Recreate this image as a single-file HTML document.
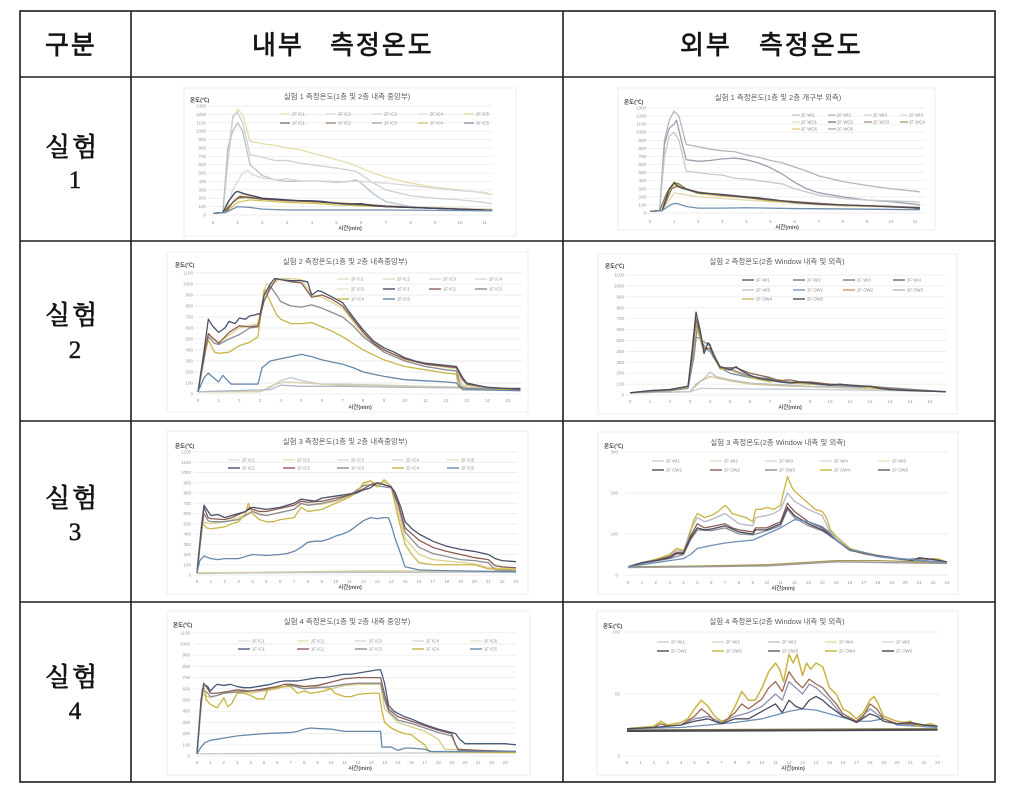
<!DOCTYPE html>
<html><head><meta charset="utf-8">
<style>
html,body{margin:0;padding:0;background:#fff;}
svg{display:block;}
.tl{stroke:#1e1e1e;stroke-width:1.6;fill:none;}
.hd{font-family:"Liberation Sans","Noto Sans CJK KR",sans-serif;font-size:26px;fill:#151515;stroke:#151515;stroke-width:0.7;letter-spacing:2px;}
.rl{font-family:"Liberation Serif","Noto Serif CJK KR","Noto Serif CJK SC",serif;font-size:26px;fill:#151515;stroke:#151515;stroke-width:0.8;letter-spacing:2px;}
.rn{font-family:"Liberation Serif",serif;font-size:25px;fill:#151515;stroke:#151515;stroke-width:0.5;}
.ti{font-family:"Liberation Sans","Noto Sans CJK KR",sans-serif;font-size:7.5px;fill:#5a5a5a;text-anchor:middle;}
.ax{font-family:"Liberation Sans","Noto Sans CJK KR",sans-serif;font-size:5.5px;fill:#444;font-weight:bold;}
.yl{font-family:"Liberation Sans",sans-serif;font-size:4.5px;fill:#9a9a9a;text-anchor:end;}
.xl{font-family:"Liberation Sans",sans-serif;font-size:4.5px;fill:#9a9a9a;text-anchor:middle;}
.xt{font-family:"Liberation Sans","Noto Sans CJK KR",sans-serif;font-size:5.5px;fill:#555;text-anchor:middle;font-weight:bold;}
.lg{font-family:"Liberation Sans",sans-serif;font-size:4.3px;fill:#8a8a8a;}
.fr{fill:#fff;stroke:#ececec;stroke-width:1;}
.gr{fill:none;stroke:#e9e9e9;stroke-width:0.7;}
.s{fill:none;stroke-width:1.3;stroke-linejoin:round;}
.s,.gr{vector-effect:non-scaling-stroke;}
</style></head>
<body>
<svg width="1024" height="801" viewBox="0 0 1024 801" xmlns="http://www.w3.org/2000/svg">
<rect width="1024" height="801" fill="#fff"/>

<!-- chart frames -->
<rect class="fr" x="184" y="88" width="332" height="148"/>
<rect class="fr" x="618" y="88" width="317" height="142"/>
<rect class="fr" x="167" y="252" width="361" height="160"/>
<rect class="fr" x="598" y="254" width="359" height="160"/>
<rect class="fr" x="167" y="431" width="361" height="163"/>
<rect class="fr" x="598" y="432" width="360" height="162"/>
<rect class="fr" x="167" y="611" width="363" height="164"/>
<rect class="fr" x="597" y="611" width="361" height="164"/>

<!-- ================= CHART 1 ================= -->
<g transform="translate(213,215) scale(24.7,-0.08385)">
<path class="gr" d="M-0.2,0H11.3M-0.2,100H11.3M-0.2,200H11.3M-0.2,300H11.3M-0.2,400H11.3M-0.2,500H11.3M-0.2,600H11.3M-0.2,700H11.3M-0.2,800H11.3M-0.2,900H11.3M-0.2,1000H11.3M-0.2,1100H11.3M-0.2,1200H11.3M-0.2,1300H11.3"/>
<polyline class="s" stroke="#e6dcaa" points="0,20 0.4,30 0.6,600 0.8,1150 1,1260 1.2,1200 1.5,880 2,850 2.5,830 3,800 3.5,780 4,740 4.5,700 5,660 5.5,620 6,560 6.5,500 7,450 8,380 9,330 10,300 11,260 11.3,240"/>
<polyline class="s" stroke="#d0d0d4" points="0,20 0.4,30 0.6,700 0.8,1180 1,1220 1.2,1100 1.5,720 2,690 2.5,650 3,650 3.5,620 4,600 5,560 5.8,520 6,480 6.5,380 7,300 8,230 9,200 10,180 11,150 11.3,130"/>
<polyline class="s" stroke="#b4c2d2" points="0,20 0.4,30 0.6,800 0.8,1000 1,1100 1.2,1000 1.5,600 2,470 2.5,420 3,400 4,410 5,390 5.5,400 5.8,420 6,380 6.5,250 7,160 8,100 9,80 10,70 11.3,60"/>
<polyline class="s" stroke="#d8d8d8" points="0,20 0.5,30 0.8,300 1.2,500 1.4,530 1.6,480 2,440 2.5,420 3,430 3.5,410 4,410 5,400 6,400 7,380 8,350 9,320 10,290 11,270 11.3,240"/>
<polyline class="s" stroke="#ddd6b8" points="0,20 0.5,30 0.9,200 1.2,250 1.5,220 2,200 3,180 4,160 5,150 6,130 8,100 11.3,70"/>
<polyline class="s" stroke="#d2c25a" points="0,20 0.5,30 1,150 1.5,180 2,170 3,150 4,140 5,120 6,110 7,100 9,80 11.3,60"/>
<polyline class="s" stroke="#8a7a3a" points="0,20 0.4,30 0.7,120 1,200 1.3,210 2,190 3,170 4,160 5,140 6,120 7,100 8,90 9,80 10,70 11.3,55"/>
<polyline class="s" stroke="#7a5a4a" points="0,20 0.5,30 0.8,150 1.1,220 1.5,210 2,190 3,175 4,165 5,140 6,130 7,105 9,80 11.3,55"/>
<polyline class="s" stroke="#404060" points="0,20 0.4,30 0.6,150 0.9,270 1,280 1.3,250 1.6,230 2,200 2.5,190 3,180 3.5,170 4,170 4.5,160 5,140 5.5,130 6,135 6.5,110 7,100 8,90 9,80 10,70 11,60 11.3,55"/>
<polyline class="s" stroke="#6f8fb0" points="0,20 0.5,30 1,100 1.5,90 2,70 3,60 5,60 7,60 9,55 11.3,50"/>
</g>
<text class="ti" x="347" y="99">실험 1 측정온도(1층 및 2층 내측 중앙부)</text>
<text class="ax" x="190" y="102">온도(℃)</text>
<g>
<text class="yl" x="206" y="216.5">0</text><text class="yl" x="206" y="208.1">100</text><text class="yl" x="206" y="199.7">200</text><text class="yl" x="206" y="191.3">300</text><text class="yl" x="206" y="183">400</text><text class="yl" x="206" y="174.6">500</text><text class="yl" x="206" y="166.2">600</text><text class="yl" x="206" y="157.8">700</text><text class="yl" x="206" y="149.4">800</text><text class="yl" x="206" y="141">900</text><text class="yl" x="206" y="132.7">1000</text><text class="yl" x="206" y="124.3">1100</text><text class="yl" x="206" y="115.9">1200</text><text class="yl" x="206" y="107.5">1300</text>
<text class="xl" x="213" y="224">0</text><text class="xl" x="237.7" y="224">1</text><text class="xl" x="262.4" y="224">2</text><text class="xl" x="287.1" y="224">3</text><text class="xl" x="311.8" y="224">4</text><text class="xl" x="336.5" y="224">5</text><text class="xl" x="361.2" y="224">6</text><text class="xl" x="385.9" y="224">7</text><text class="xl" x="410.6" y="224">8</text><text class="xl" x="435.3" y="224">9</text><text class="xl" x="460" y="224">10</text><text class="xl" x="484.7" y="224">11</text>
</g>
<text class="xt" x="350" y="230">시간(min)</text>
<g stroke-width="1">
<line x1="280" y1="114" x2="290" y2="114" stroke="#e6d9a0"/><text class="lg" x="292" y="115.5">2F IC1</text>
<line x1="326" y1="114" x2="336" y2="114" stroke="#d0d0d0"/><text class="lg" x="338" y="115.5">2F IC2</text>
<line x1="372" y1="114" x2="382" y2="114" stroke="#c8d2de"/><text class="lg" x="384" y="115.5">2F IC3</text>
<line x1="418" y1="114" x2="428" y2="114" stroke="#dcdcdc"/><text class="lg" x="430" y="115.5">2F IC4</text>
<line x1="464" y1="114" x2="474" y2="114" stroke="#e0cf80"/><text class="lg" x="476" y="115.5">2F IC5</text>
<line x1="280" y1="123" x2="290" y2="123" stroke="#404060"/><text class="lg" x="292" y="124.5">1F IC1</text>
<line x1="326" y1="123" x2="336" y2="123" stroke="#7a5a4a"/><text class="lg" x="338" y="124.5">1F IC2</text>
<line x1="372" y1="123" x2="382" y2="123" stroke="#8a8a8a"/><text class="lg" x="384" y="124.5">1F IC3</text>
<line x1="418" y1="123" x2="428" y2="123" stroke="#c4b23e"/><text class="lg" x="430" y="124.5">1F IC4</text>
<line x1="464" y1="123" x2="474" y2="123" stroke="#5a6e88"/><text class="lg" x="476" y="124.5">1F IC5</text>
</g>

<!-- ================= CHART 2 ================= -->
<g transform="translate(650,213) scale(24.1,-0.08077)">
<path class="gr" d="M-0.2,0H11.4M-0.2,100H11.4M-0.2,200H11.4M-0.2,300H11.4M-0.2,400H11.4M-0.2,500H11.4M-0.2,600H11.4M-0.2,700H11.4M-0.2,800H11.4M-0.2,900H11.4M-0.2,1000H11.4M-0.2,1100H11.4M-0.2,1200H11.4M-0.2,1300H11.4"/>
<polyline class="s" stroke="#b5b5c0" points="0,20 0.4,30 0.6,900 0.8,1150 1,1260 1.2,1200 1.5,850 2,820 2.5,790 3,770 3.5,760 4,720 4.5,690 5,650 5.5,620 6,570 6.5,520 7,460 8,390 9,340 10,300 11,270 11.2,260"/>
<polyline class="s" stroke="#9aa0b0" points="0,20 0.4,30 0.6,850 0.8,1050 1,1100 1.1,1150 1.3,900 1.5,660 2,640 2.5,650 3,670 3.5,680 4,660 4.5,620 5,560 5.5,480 6,380 6.5,300 7,250 8,200 9,160 10,140 11,110 11.2,100"/>
<polyline class="s" stroke="#c8c8cc" points="0,20 0.4,30 0.6,700 0.8,950 1,1000 1.2,900 1.5,520 2,500 2.5,480 3,470 3.5,430 4,420 5,380 5.5,360 6,300 7,220 8,180 9,160 10,150 11,140 11.2,130"/>
<polyline class="s" stroke="#e0d8b0" points="0,20 0.5,30 1,250 2,200 3,180 5,140 7,100 11.2,60"/>
<polyline class="s" stroke="#d4c050" points="0,20 0.5,30 0.8,280 1,350 1.3,320 2,240 3,210 4,190 5,150 6,130 7,110 8,90 10,80 11.2,60"/>
<polyline class="s" stroke="#8a7a3a" points="0,20 0.4,30 0.7,250 1,380 1.2,360 1.5,300 2,250 2.5,240 3,220 3.5,210 4,200 4.5,190 5,160 5.5,150 6,140 7,110 8,100 9,90 10,80 11,60 11.2,50"/>
<polyline class="s" stroke="#8b6a50" points="0,20 0.5,30 0.9,300 1.1,330 2,260 3,220 4,190 5,160 6,140 8,100 11.2,70"/>
<polyline class="s" stroke="#4a4a60" points="0,20 0.5,30 0.8,300 1,370 1.3,310 2,250 3,230 4,200 5,170 6,130 7,110 9,90 11.2,60"/>
<polyline class="s" stroke="#6f8fb0" points="0,20 0.5,30 0.9,110 1.1,120 1.5,80 2,60 3,60 4,65 6,55 8,50 11.2,40"/>
</g>
<text class="ti" x="778" y="100">실험 1 측정온도(1층 및 2층 개구부 외측)</text>
<text class="ax" x="624" y="104">온도(℃)</text>
<g>
<text class="yl" x="646" y="214.5">0</text><text class="yl" x="646" y="206.4">100</text><text class="yl" x="646" y="198.3">200</text><text class="yl" x="646" y="190.3">300</text><text class="yl" x="646" y="182.2">400</text><text class="yl" x="646" y="174.1">500</text><text class="yl" x="646" y="166">600</text><text class="yl" x="646" y="158">700</text><text class="yl" x="646" y="149.9">800</text><text class="yl" x="646" y="141.8">900</text><text class="yl" x="646" y="133.7">1000</text><text class="yl" x="646" y="125.7">1100</text><text class="yl" x="646" y="117.6">1200</text><text class="yl" x="646" y="109.5">1300</text>
<text class="xl" x="650" y="223">0</text><text class="xl" x="674.1" y="223">1</text><text class="xl" x="698.2" y="223">2</text><text class="xl" x="722.3" y="223">3</text><text class="xl" x="746.4" y="223">4</text><text class="xl" x="770.5" y="223">5</text><text class="xl" x="794.6" y="223">6</text><text class="xl" x="818.7" y="223">7</text><text class="xl" x="842.8" y="223">8</text><text class="xl" x="866.9" y="223">9</text><text class="xl" x="891" y="223">10</text><text class="xl" x="915.1" y="223">11</text>
</g>
<text class="xt" x="787" y="229">시간(min)</text>
<g stroke-width="1">
<line x1="792" y1="115" x2="800" y2="115" stroke="#b5b5c0"/><text class="lg" x="801" y="116.5">2F WI1</text>
<line x1="828" y1="115" x2="836" y2="115" stroke="#9aa0b0"/><text class="lg" x="837" y="116.5">2F WI2</text>
<line x1="864" y1="115" x2="872" y2="115" stroke="#c8c8cc"/><text class="lg" x="873" y="116.5">2F WI3</text>
<line x1="900" y1="115" x2="908" y2="115" stroke="#d0d0d8"/><text class="lg" x="909" y="116.5">2F WI4</text>
<line x1="792" y1="122" x2="800" y2="122" stroke="#e0d8b0"/><text class="lg" x="801" y="123.5">2F WO1</text>
<line x1="828" y1="122" x2="836" y2="122" stroke="#4a4a60"/><text class="lg" x="837" y="123.5">2F WO2</text>
<line x1="864" y1="122" x2="872" y2="122" stroke="#8b6a50"/><text class="lg" x="873" y="123.5">2F WO3</text>
<line x1="900" y1="122" x2="908" y2="122" stroke="#8a7a3a"/><text class="lg" x="909" y="123.5">2F WO4</text>
<line x1="792" y1="129" x2="800" y2="129" stroke="#d4c050"/><text class="lg" x="801" y="130.5">2F WO5</text>
<line x1="828" y1="129" x2="836" y2="129" stroke="#6f8fb0"/><text class="lg" x="837" y="130.5">2F WO6</text>
</g>

<!-- ================= CHART 3 ================= -->
<g transform="translate(198,394) scale(20.67,-0.11)">
<path class="gr" d="M-0.2,0H15.7M-0.2,100H15.7M-0.2,200H15.7M-0.2,300H15.7M-0.2,400H15.7M-0.2,500H15.7M-0.2,600H15.7M-0.2,700H15.7M-0.2,800H15.7M-0.2,900H15.7M-0.2,1000H15.7M-0.2,1100H15.7"/>
<polyline class="s" stroke="#c8c8c8" points="0,20 2,20 3,20 3.5,60 4,120 4.5,150 5,120 6,90 7,90 9,80 11,70 13,60 15.6,50"/>
<polyline class="s" stroke="#d8d0a8" points="0,20 3,20 3.6,80 4.2,110 5,100 7,80 10,70 13,60 15.6,50"/>
<polyline class="s" stroke="#b0b8c8" points="0,20 3.5,40 4,80 5,70 7,70 10,60 15.6,50"/>
<polyline class="s" stroke="#ddd08a" points="0,20 0.5,540 1,470 2,600 2.9,640 3.3,1000 3.6,1000 4,1050 4.5,1050 5,1040 5.5,900 6,880 7,780 8,540 9,400 10,310 11,270 12.5,230 12.8,80 15.6,40"/>
<polyline class="s" stroke="#8c8c95" points="0,20 0.5,520 0.8,460 1,450 1.5,500 2,540 2.5,600 2.9,610 3.1,800 3.5,980 3.8,900 4,840 4.5,800 5,790 5.5,810 6,780 6.5,740 7,700 7.5,620 8,520 9,380 10,300 11,250 12,220 12.5,210 12.7,70 13,50 15.6,40"/>
<polyline class="s" stroke="#c8b648" points="0,20 0.3,350 0.5,490 0.8,380 1,370 1.5,380 2,440 2.5,470 2.9,520 3.2,950 3.4,880 3.8,720 4,680 4.5,640 5,640 5.5,650 6,610 6.5,570 7,520 7.5,460 8,400 9,310 10,250 11,220 12,190 12.5,180 12.6,60 13,40 15.6,40"/>
<polyline class="s" stroke="#8b5e55" points="0,20 0.3,350 0.5,550 0.7,510 1,460 1.5,560 2,620 2.5,610 2.9,620 3.2,850 3.5,960 3.8,1050 4,1040 4.5,1020 5,1010 5.5,880 6,900 6.5,860 7,800 7.5,680 8,560 8.5,460 9,400 10,320 11,270 12,250 12.5,240 12.8,130 13,90 14,60 15.6,40"/>
<polyline class="s" stroke="#4b5068" points="0,20 0.3,400 0.5,680 0.7,620 1,560 1.3,600 1.5,660 1.8,640 2,690 2.3,680 2.5,710 2.8,720 2.9,730 3,720 3.2,900 3.5,1000 3.7,1050 4,1040 4.5,1030 5,1030 5.3,1020 5.5,900 5.8,940 6,930 6.5,880 7,830 7.5,700 8,580 8.5,480 9,420 9.5,380 10,330 10.5,300 11,280 11.5,270 12,260 12.5,250 12.8,150 13,100 13.5,80 14,60 15,50 15.6,50"/>
<polyline class="s" stroke="#6688aa" points="0,20 0.3,150 0.5,190 0.8,140 1,110 1.2,170 1.4,130 1.6,90 2,90 2.9,90 3.1,240 3.5,300 4,320 4.5,340 5,360 5.5,340 6,310 6.5,290 7,270 7.5,240 8,200 8.5,180 9,160 10,130 11,120 12,110 12.5,100 12.8,40 15.6,30"/>
</g>
<text class="ti" x="345" y="264">실험 2 측정온도(1층 및 2층 내측중앙부)</text>
<text class="ax" x="175" y="267">온도(℃)</text>
<g>
<text class="yl" x="193" y="395.5">0</text><text class="yl" x="193" y="384.5">100</text><text class="yl" x="193" y="373.5">200</text><text class="yl" x="193" y="362.5">300</text><text class="yl" x="193" y="351.5">400</text><text class="yl" x="193" y="340.5">500</text><text class="yl" x="193" y="329.5">600</text><text class="yl" x="193" y="318.5">700</text><text class="yl" x="193" y="307.5">800</text><text class="yl" x="193" y="296.5">900</text><text class="yl" x="193" y="285.5">1000</text><text class="yl" x="193" y="274.5">1100</text>
<text class="xl" x="198" y="402">0</text><text class="xl" x="218.7" y="402">1</text><text class="xl" x="239.3" y="402">2</text><text class="xl" x="260" y="402">3</text><text class="xl" x="280.7" y="402">4</text><text class="xl" x="301.3" y="402">5</text><text class="xl" x="322" y="402">6</text><text class="xl" x="342.7" y="402">7</text><text class="xl" x="363.3" y="402">8</text><text class="xl" x="384" y="402">9</text><text class="xl" x="404.7" y="402">10</text><text class="xl" x="425.3" y="402">11</text><text class="xl" x="446" y="402">12</text><text class="xl" x="466.7" y="402">13</text><text class="xl" x="487.3" y="402">14</text><text class="xl" x="508" y="402">15</text>
</g>
<text class="xt" x="360" y="409">시간(min)</text>
<g stroke-width="1">
<line x1="337" y1="279" x2="349" y2="279" stroke="#dcd6b0"/><text class="lg" x="351" y="280.5">2F IC1</text>
<line x1="383" y1="279" x2="395" y2="279" stroke="#d8d0a8"/><text class="lg" x="397" y="280.5">2F IC2</text>
<line x1="429" y1="279" x2="441" y2="279" stroke="#c8c8c8"/><text class="lg" x="443" y="280.5">2F IC3</text>
<line x1="475" y1="279" x2="487" y2="279" stroke="#c4ccd8"/><text class="lg" x="489" y="280.5">2F IC4</text>
<line x1="337" y1="289" x2="349" y2="289" stroke="#e0d8b8"/><text class="lg" x="351" y="290.5">2F IC5</text>
<line x1="383" y1="289" x2="395" y2="289" stroke="#4b5068" stroke-width="1.4"/><text class="lg" x="397" y="290.5">1F IC1</text>
<line x1="429" y1="289" x2="441" y2="289" stroke="#8b5e55" stroke-width="1.4"/><text class="lg" x="443" y="290.5">1F IC2</text>
<line x1="475" y1="289" x2="487" y2="289" stroke="#8c8c95" stroke-width="1.4"/><text class="lg" x="489" y="290.5">1F IC3</text>
<line x1="337" y1="299" x2="349" y2="299" stroke="#c8b648" stroke-width="1.4"/><text class="lg" x="351" y="300.5">1F IC4</text>
<line x1="383" y1="299" x2="395" y2="299" stroke="#6688aa" stroke-width="1.4"/><text class="lg" x="397" y="300.5">1F IC5</text>
</g>

<!-- ================= CHART 4 ================= -->
<g transform="translate(630,395) scale(20,-0.109)">
<path class="gr" d="M-0.2,0H15.8M-0.2,100H15.8M-0.2,200H15.8M-0.2,300H15.8M-0.2,400H15.8M-0.2,500H15.8M-0.2,600H15.8M-0.2,700H15.8M-0.2,800H15.8M-0.2,900H15.8M-0.2,1000H15.8M-0.2,1100H15.8"/>
<polyline class="s" stroke="#c4ccd8" points="0,20 3,30 3.5,60 4,60 6,55 10,50 15.8,30"/>
<polyline class="s" stroke="#d2c890" points="0,20 3,30 3.5,120 4,170 5,130 6,100 7,90 8,80 10,70 15.8,30"/>
<polyline class="s" stroke="#c0c0c0" points="0,20 3,30 3.3,100 3.7,150 4,210 4.3,170 5,140 6,110 7,100 8,90 9,80 10,75 12,70 15.8,30"/>
<polyline class="s" stroke="#6c90b4" points="0,20 2,40 2.9,70 3.1,300 3.3,530 3.5,520 3.8,420 4,400 4.5,250 5,200 6,160 7,130 8,110 9,100 10,90 12,70 15.8,30"/>
<polyline class="s" stroke="#c8b450" points="0,20 2,40 2.9,70 3.1,300 3.3,650 3.6,450 4,420 4.5,240 5,230 6,160 7,120 7.5,140 8,110 9,100 10,95 11,90 12,70 13,50 15.8,30"/>
<polyline class="s" stroke="#909098" points="0,20 2,40 2.9,60 3.2,350 3.4,680 3.6,500 4,450 4.5,260 5,240 6,170 7,150 8,120 9,110 10,90 12,80 15.8,30"/>
<polyline class="s" stroke="#8b6a55" points="0,20 1,40 2,50 2.9,80 3.1,350 3.3,700 3.5,560 3.7,420 4,430 4.3,320 4.5,250 5,250 5.3,250 6,200 6.5,180 7,160 7.5,130 8,140 8.5,120 9,120 10,100 11,90 12,80 13,55 15.8,30"/>
<polyline class="s" stroke="#4a4a5a" points="0,20 1,40 2,50 2.9,80 3.1,400 3.3,760 3.5,600 3.7,380 3.9,480 4,460 4.2,350 4.5,260 5,230 5.3,260 5.5,230 6,180 6.5,150 7,140 7.5,120 8,110 8.5,120 9,110 9.5,100 10,90 10.5,100 11,90 11.5,80 12,80 12.5,60 13,50 14,40 15,35 15.8,30"/>
</g>
<text class="ti" x="777" y="264">실험 2 측정온도(2층 Window 내측 및 외측)</text>
<text class="ax" x="605" y="268">온도(℃)</text>
<g>
<text class="yl" x="624" y="396.5">0</text><text class="yl" x="624" y="385.6">100</text><text class="yl" x="624" y="374.7">200</text><text class="yl" x="624" y="363.8">300</text><text class="yl" x="624" y="352.9">400</text><text class="yl" x="624" y="342">500</text><text class="yl" x="624" y="331.1">600</text><text class="yl" x="624" y="320.2">700</text><text class="yl" x="624" y="309.3">800</text><text class="yl" x="624" y="298.4">900</text><text class="yl" x="624" y="287.5">1000</text><text class="yl" x="624" y="276.6">1100</text>
<text class="xl" x="630" y="403">0</text><text class="xl" x="650" y="403">1</text><text class="xl" x="670" y="403">2</text><text class="xl" x="690" y="403">3</text><text class="xl" x="710" y="403">4</text><text class="xl" x="730" y="403">5</text><text class="xl" x="750" y="403">6</text><text class="xl" x="770" y="403">7</text><text class="xl" x="790" y="403">8</text><text class="xl" x="810" y="403">9</text><text class="xl" x="830" y="403">10</text><text class="xl" x="850" y="403">11</text><text class="xl" x="870" y="403">12</text><text class="xl" x="890" y="403">13</text><text class="xl" x="910" y="403">14</text><text class="xl" x="930" y="403">15</text>
</g>
<text class="xt" x="790" y="409">시간(min)</text>
<g stroke-width="1.3">
<line x1="742" y1="280" x2="754" y2="280" stroke="#4a4a5a"/><text class="lg" x="756" y="281.5">2F WI1</text>
<line x1="793" y1="280" x2="805" y2="280" stroke="#6a6a7a"/><text class="lg" x="807" y="281.5">2F WI2</text>
<line x1="843" y1="280" x2="855" y2="280" stroke="#8b6a55"/><text class="lg" x="857" y="281.5">2F WI3</text>
<line x1="893" y1="280" x2="905" y2="280" stroke="#5a5a6a"/><text class="lg" x="907" y="281.5">2F WI4</text>
<line x1="742" y1="290" x2="754" y2="290" stroke="#c0c0c0"/><text class="lg" x="756" y="291.5">2F WI5</text>
<line x1="793" y1="290" x2="805" y2="290" stroke="#6c90b4"/><text class="lg" x="807" y="291.5">2F OW1</text>
<line x1="843" y1="290" x2="855" y2="290" stroke="#c8945a"/><text class="lg" x="857" y="291.5">2F OW2</text>
<line x1="893" y1="290" x2="905" y2="290" stroke="#b0b0b8"/><text class="lg" x="907" y="291.5">2F OW3</text>
<line x1="742" y1="299" x2="754" y2="299" stroke="#c8b450"/><text class="lg" x="756" y="300.5">2F OW4</text>
<line x1="793" y1="299" x2="805" y2="299" stroke="#404050"/><text class="lg" x="807" y="300.5">2F OW5</text>
</g>

<!-- ================= CHART 5 ================= -->
<g transform="translate(197,575) scale(13.87,-0.1025)">
<path class="gr" d="M-0.2,0H23.1M-0.2,100H23.1M-0.2,200H23.1M-0.2,300H23.1M-0.2,400H23.1M-0.2,500H23.1M-0.2,600H23.1M-0.2,700H23.1M-0.2,800H23.1M-0.2,900H23.1M-0.2,1000H23.1M-0.2,1100H23.1M-0.2,1200H23.1"/>
<polyline class="s" stroke="#c8c8c8" points="0,20 23,30"/>
<polyline class="s" stroke="#b8c0cc" points="0,15 10,30 23,30"/>
<polyline class="s" stroke="#d8cfa0" points="0,20 12,40 23,35"/>
<polyline class="s" stroke="#ddd08a" points="0,20 0.4,520 1,500 2,520 3,560 4,620 5,580 7,640 7.5,690 9,690 10,720 11,770 12,880 12.5,920 13,880 13.5,910 14,870 14.5,620 15,360 16,200 17,150 20,110 21,70 23,60"/>
<polyline class="s" stroke="#8c8c95" points="0,20 0.3,380 0.5,600 0.8,530 1,520 2,520 3,540 3.5,580 4,620 4.5,590 5,580 6,610 7,640 7.5,700 8,680 9,700 10,730 11,780 12,870 12.5,880 13,870 14,850 14.5,680 15,420 16,270 17,210 18,180 19,150 20,140 21,120 21.5,50 23,40"/>
<polyline class="s" stroke="#c8b648" points="0,20 0.2,300 0.4,500 0.7,460 1,450 2,470 2.5,500 3,520 3.5,600 3.7,700 4,600 4.5,540 5,520 5.5,520 6,540 7,560 7.5,660 8,620 8.5,630 9,640 10,700 11,760 11.5,800 12,900 12.5,920 13,860 13.5,930 14,860 14.5,560 15,300 15.5,200 16,120 17,100 18,100 20,100 20.5,80 21,60 23,50"/>
<polyline class="s" stroke="#8b5e55" points="0,20 0.3,420 0.5,660 0.8,560 1,550 2,540 2.5,560 3,590 3.5,620 3.8,660 4,640 4.5,620 5,620 6,650 7,680 7.5,720 8,710 9,720 10,750 11,780 12,840 12.5,880 13,900 13.5,880 14,860 14.5,700 15,460 16,340 17,270 18,230 19,200 20,170 21,150 21.5,90 22,80 23,70"/>
<polyline class="s" stroke="#4b5068" points="0,20 0.3,450 0.5,680 0.7,640 1,580 1.5,590 2,560 2.5,580 3,600 3.5,620 4,660 4.5,650 5,640 5.5,650 6,660 6.5,680 7,700 7.5,740 8,730 8.5,720 9,750 10,770 11,790 11.5,800 12,830 12.5,850 13,900 13.5,880 14,860 14.3,800 14.7,660 15,520 15.5,450 16,400 17,330 18,280 19,250 20,230 21,200 21.5,160 22,140 23,130"/>
<polyline class="s" stroke="#6688aa" points="0,20 0.2,140 0.5,185 0.8,170 1,160 1.5,150 2,160 3,160 3.5,180 4,200 5,190 6,200 6.5,210 7,230 7.5,270 8,320 8.5,330 9,330 9.5,350 10,380 10.5,400 11,430 11.5,480 12,530 12.5,560 13,550 13.5,560 13.8,560 14,490 14.3,350 14.7,200 15,80 16,50 17,45 19,40 21,35 23,30"/>
</g>
<text class="ti" x="345" y="444">실험 3 측정온도(1층 및 2층 내측중앙부)</text>
<text class="ax" x="175" y="448">온도(℃)</text>
<g>
<text class="yl" x="191" y="576.5">0</text><text class="yl" x="191" y="566.3">100</text><text class="yl" x="191" y="556">200</text><text class="yl" x="191" y="545.8">300</text><text class="yl" x="191" y="535.5">400</text><text class="yl" x="191" y="525.3">500</text><text class="yl" x="191" y="515">600</text><text class="yl" x="191" y="504.8">700</text><text class="yl" x="191" y="494.5">800</text><text class="yl" x="191" y="484.3">900</text><text class="yl" x="191" y="474">1000</text><text class="yl" x="191" y="463.8">1100</text><text class="yl" x="191" y="453.5">1200</text>
<text class="xl" x="197" y="583">0</text><text class="xl" x="210.9" y="583">1</text><text class="xl" x="224.7" y="583">2</text><text class="xl" x="238.6" y="583">3</text><text class="xl" x="252.5" y="583">4</text><text class="xl" x="266.4" y="583">5</text><text class="xl" x="280.2" y="583">6</text><text class="xl" x="294.1" y="583">7</text><text class="xl" x="308" y="583">8</text><text class="xl" x="321.8" y="583">9</text><text class="xl" x="335.7" y="583">10</text><text class="xl" x="349.6" y="583">11</text><text class="xl" x="363.4" y="583">12</text><text class="xl" x="377.3" y="583">13</text><text class="xl" x="391.2" y="583">14</text><text class="xl" x="405.1" y="583">15</text><text class="xl" x="418.9" y="583">16</text><text class="xl" x="432.8" y="583">17</text><text class="xl" x="446.7" y="583">18</text><text class="xl" x="460.5" y="583">19</text><text class="xl" x="474.4" y="583">20</text><text class="xl" x="488.3" y="583">21</text><text class="xl" x="502.1" y="583">22</text><text class="xl" x="516" y="583">23</text>
</g>
<text class="xt" x="350" y="589">시간(min)</text>
<g stroke-width="1">
<line x1="228" y1="460" x2="240" y2="460" stroke="#d0d0d0"/><text class="lg" x="242" y="461.5">2F IC1</text>
<line x1="283" y1="460" x2="295" y2="460" stroke="#e0d6a0"/><text class="lg" x="297" y="461.5">2F IC2</text>
<line x1="337" y1="460" x2="349" y2="460" stroke="#c8c8c8"/><text class="lg" x="351" y="461.5">2F IC3</text>
<line x1="392" y1="460" x2="404" y2="460" stroke="#c4ccd8"/><text class="lg" x="406" y="461.5">2F IC4</text>
<line x1="447" y1="460" x2="459" y2="460" stroke="#dcd4b0"/><text class="lg" x="461" y="461.5">2F IC5</text>
<line x1="228" y1="468" x2="240" y2="468" stroke="#4b5068" stroke-width="1.4"/><text class="lg" x="242" y="469.5">1F IC1</text>
<line x1="283" y1="468" x2="295" y2="468" stroke="#8b5e55" stroke-width="1.4"/><text class="lg" x="297" y="469.5">1F IC2</text>
<line x1="337" y1="468" x2="349" y2="468" stroke="#8c8c95" stroke-width="1.4"/><text class="lg" x="351" y="469.5">1F IC3</text>
<line x1="392" y1="468" x2="404" y2="468" stroke="#c8b648" stroke-width="1.4"/><text class="lg" x="406" y="469.5">1F IC4</text>
<line x1="447" y1="468" x2="459" y2="468" stroke="#6688aa" stroke-width="1.4"/><text class="lg" x="461" y="469.5">1F IC5</text>
</g>

<!-- ================= CHART 6 ================= -->
<g transform="translate(628,575) scale(13.87,-0.41)">
<path class="gr" d="M-0.2,0H23.1M-0.2,100H23.1M-0.2,200H23.1M-0.2,300H23.1"/>
<polyline class="s" stroke="#a89850" points="0,20 5,22 10,25 15,35 18,35 23,30"/>
<polyline class="s" stroke="#9a9aa0" points="0,18 5,20 10,22 15,32 23,28"/>
<polyline class="s" stroke="#b8b8c4" points="0,20 1,30 2,38 3,48 3.5,60 4,58 4.5,110 5,140 5.5,130 6,135 7,150 8,125 9,120 9.2,140 10,145 10.5,150 11,160 11.5,200 12,180 13,160 14,145 14.5,110 15,90 16,62 17,52 18,45 20,36 21,40 22,38 23,30"/>
<polyline class="s" stroke="#c8b440" points="0,20 0.5,25 1,30 2,38 3,50 3.5,65 4,60 4.3,80 4.7,130 5,150 5.3,145 5.5,140 6,145 6.5,155 7,170 7.3,160 7.5,150 8,145 8.5,140 9,130 9.2,160 9.6,160 10,165 10.5,160 11,170 11.2,200 11.5,240 11.8,215 12,205 12.5,190 13,175 13.5,160 14,155 14.3,140 14.6,110 15,95 15.5,80 16,65 17,55 18,48 19,42 20,38 20.5,35 21,42 21.5,38 22,40 22.5,38 23,30"/>
<polyline class="s" stroke="#8c8c95" points="0,20 1,28 3,40 4,50 4.5,85 5,110 6,108 7,115 8,100 9,98 10,108 11,120 11.5,160 12,140 13,120 14,108 15,85 16,60 18,45 20,37 23,32"/>
<polyline class="s" stroke="#8b5e55" points="0,20 1,30 2,36 3,45 3.5,55 4,55 4.5,95 5,125 5.5,115 6,118 7,125 7.5,115 8,110 9,105 9.2,115 10,115 11,130 11.5,175 12,155 13,130 14,115 14.5,100 15,85 16,62 17,52 18,46 19,42 20,38 21,40 22,38 23,32"/>
<polyline class="s" stroke="#4b4b60" points="0,20 1,30 2,35 3,42 3.5,52 4,52 4.5,90 5,115 5.5,110 6,112 7,120 8,105 9,100 9.2,110 10,110 11,125 11.5,165 12,145 13,125 14,110 14.5,100 15,85 16,60 17,55 18,47 19,43 20,38 20.5,35 21,42 22,38 23,32"/>
<polyline class="s" stroke="#6c90b4" points="0,20 1,25 2,30 3,35 4,40 4.5,50 5,65 6,72 7,78 8,82 9,85 10,100 11,115 11.5,125 12,135 13,130 14,118 14.5,105 15,85 16,62 17,55 18,45 23,30"/>
</g>
<text class="ti" x="778" y="445">실험 3 측정온도(2층 Window 내측 및 외측)</text>
<text class="ax" x="604" y="448">온도(℃)</text>
<g>
<text class="yl" x="618" y="576.5">0</text><text class="yl" x="618" y="535.5">100</text><text class="yl" x="618" y="494.5">200</text><text class="yl" x="618" y="453.5">300</text>
<text class="xl" x="628" y="584">0</text><text class="xl" x="641.9" y="584">1</text><text class="xl" x="655.7" y="584">2</text><text class="xl" x="669.6" y="584">3</text><text class="xl" x="683.5" y="584">4</text><text class="xl" x="697.4" y="584">5</text><text class="xl" x="711.2" y="584">6</text><text class="xl" x="725.1" y="584">7</text><text class="xl" x="739" y="584">8</text><text class="xl" x="752.8" y="584">9</text><text class="xl" x="766.7" y="584">10</text><text class="xl" x="780.6" y="584">11</text><text class="xl" x="794.4" y="584">12</text><text class="xl" x="808.3" y="584">13</text><text class="xl" x="822.2" y="584">14</text><text class="xl" x="836.1" y="584">15</text><text class="xl" x="849.9" y="584">16</text><text class="xl" x="863.8" y="584">17</text><text class="xl" x="877.7" y="584">18</text><text class="xl" x="891.5" y="584">19</text><text class="xl" x="905.4" y="584">20</text><text class="xl" x="919.3" y="584">21</text><text class="xl" x="933.1" y="584">22</text><text class="xl" x="947" y="584">23</text>
</g>
<text class="xt" x="783" y="590">시간(min)</text>
<g stroke-width="1">
<line x1="652" y1="461" x2="664" y2="461" stroke="#b8b8c4"/><text class="lg" x="666" y="462.5">2F WI1</text>
<line x1="710" y1="461" x2="722" y2="461" stroke="#d8d0a8"/><text class="lg" x="724" y="462.5">2F WI2</text>
<line x1="765" y1="461" x2="777" y2="461" stroke="#c8c8c8"/><text class="lg" x="779" y="462.5">2F WI3</text>
<line x1="820" y1="461" x2="832" y2="461" stroke="#c4ccd8"/><text class="lg" x="834" y="462.5">2F WI4</text>
<line x1="878" y1="461" x2="890" y2="461" stroke="#e0d8a0"/><text class="lg" x="892" y="462.5">2F WI5</text>
<line x1="652" y1="470" x2="664" y2="470" stroke="#4b4b60" stroke-width="1.4"/><text class="lg" x="666" y="471.5">2F OW1</text>
<line x1="710" y1="470" x2="722" y2="470" stroke="#8b5e55" stroke-width="1.4"/><text class="lg" x="724" y="471.5">2F OW2</text>
<line x1="765" y1="470" x2="777" y2="470" stroke="#8c8c95" stroke-width="1.4"/><text class="lg" x="779" y="471.5">2F OW3</text>
<line x1="820" y1="470" x2="832" y2="470" stroke="#c8b440" stroke-width="1.4"/><text class="lg" x="834" y="471.5">2F OW4</text>
<line x1="878" y1="470" x2="890" y2="470" stroke="#5a5a68" stroke-width="1.4"/><text class="lg" x="892" y="471.5">2F OW5</text>
</g>

<!-- ================= CHART 7 ================= -->
<g transform="translate(197,756) scale(13.4,-0.112)">
<path class="gr" d="M-0.2,0H23.8M-0.2,100H23.8M-0.2,200H23.8M-0.2,300H23.8M-0.2,400H23.8M-0.2,500H23.8M-0.2,600H23.8M-0.2,700H23.8M-0.2,800H23.8M-0.2,900H23.8M-0.2,1000H23.8M-0.2,1100H23.8"/>
<polyline class="s" stroke="#c8c8c8" points="0,20 23.8,30"/>
<polyline class="s" stroke="#d8cc88" points="0,20 0.4,550 1,520 2,560 3,580 4,560 5,580 6,600 7,640 8,600 9,620 10,600 11,630 12,640 13,640 13.7,640 14,420 15,300 16,260 17,220 18,150 18.5,60 23.8,40"/>
<polyline class="s" stroke="#8c8c95" points="0,20 0.4,600 0.8,560 1,530 1.5,540 2,560 3,570 4,580 5,590 6,610 7,630 8,600 9,610 10,620 11,640 12,650 13,650 13.7,650 14,500 14.3,400 15,320 16,290 17,250 18,210 19,180 19.5,50 23.8,40"/>
<polyline class="s" stroke="#c8b440" points="0,20 0.3,450 0.5,620 0.7,500 1,460 1.5,430 2,520 2.3,440 2.6,470 3,560 3.5,560 4,540 4.5,510 5,510 5.3,600 6,610 6.5,620 7,620 7.5,560 8,580 8.5,560 9,570 9.5,580 10,600 10.3,560 11,530 11.5,530 12,550 13,560 13.6,560 13.8,400 14,300 14.5,250 15,220 15.5,200 16,190 16.5,140 17,100 17.3,40 23.8,30"/>
<polyline class="s" stroke="#8b5e55" points="0,20 0.3,480 0.5,650 0.8,600 1,560 1.5,560 2,570 3,590 4,580 5,600 6,620 6.5,640 7,640 8,620 9,630 10,660 11,690 12,700 13,700 13.7,700 14,550 14.3,420 15,350 16,310 17,270 18,230 19,200 19.3,100 19.5,60 21,50 23.8,40"/>
<polyline class="s" stroke="#4a5a7a" points="0,20 0.3,500 0.5,640 0.8,620 1,580 1.3,620 1.5,640 2,630 2.5,640 3,620 3.5,610 4,610 4.5,620 5,630 5.5,640 6,660 6.5,670 7,670 7.5,670 8,680 8.5,690 9,700 9.5,700 10,710 10.5,720 11,730 11.5,730 12,740 12.5,750 13,760 13.5,770 13.7,770 14,650 14.3,450 14.7,400 15,380 15.5,350 16,330 17,280 18,240 19,210 19.3,200 19.6,150 20,110 21,110 22,110 23,110 23.8,100"/>
<polyline class="s" stroke="#6688aa" points="0,20 0.3,80 0.6,120 1,140 1.5,150 2,160 2.5,170 3,180 4,190 5,200 6,205 7,210 7.5,220 8,240 8.5,250 9,245 10,240 11,220 12,220 13,220 13.7,220 13.8,80 14.5,80 15,50 15.5,70 16,70 17,60 17.5,40 23.8,40"/>
</g>
<text class="ti" x="347" y="624">실험 4 측정온도(1층 및 2층 내측 중앙부)</text>
<text class="ax" x="173" y="627">온도(℃)</text>
<g>
<text class="yl" x="190" y="757.5">0</text><text class="yl" x="190" y="746.3">100</text><text class="yl" x="190" y="735.1">200</text><text class="yl" x="190" y="723.9">300</text><text class="yl" x="190" y="712.7">400</text><text class="yl" x="190" y="701.5">500</text><text class="yl" x="190" y="690.3">600</text><text class="yl" x="190" y="679.1">700</text><text class="yl" x="190" y="667.9">800</text><text class="yl" x="190" y="656.7">900</text><text class="yl" x="190" y="645.5">1000</text><text class="yl" x="190" y="634.3">1100</text>
<text class="xl" x="197" y="764">0</text><text class="xl" x="210.4" y="764">1</text><text class="xl" x="223.8" y="764">2</text><text class="xl" x="237.2" y="764">3</text><text class="xl" x="250.6" y="764">4</text><text class="xl" x="264" y="764">5</text><text class="xl" x="277.4" y="764">6</text><text class="xl" x="290.8" y="764">7</text><text class="xl" x="304.2" y="764">8</text><text class="xl" x="317.6" y="764">9</text><text class="xl" x="331" y="764">10</text><text class="xl" x="344.4" y="764">11</text><text class="xl" x="357.8" y="764">12</text><text class="xl" x="371.2" y="764">13</text><text class="xl" x="384.6" y="764">14</text><text class="xl" x="398" y="764">15</text><text class="xl" x="411.4" y="764">16</text><text class="xl" x="424.8" y="764">17</text><text class="xl" x="438.2" y="764">18</text><text class="xl" x="451.6" y="764">19</text><text class="xl" x="465" y="764">20</text><text class="xl" x="478.4" y="764">21</text><text class="xl" x="491.8" y="764">22</text><text class="xl" x="505.2" y="764">23</text>
</g>
<text class="xt" x="360" y="770">시간(min)</text>
<g stroke-width="1">
<line x1="238" y1="641" x2="250" y2="641" stroke="#d0d0d0"/><text class="lg" x="252" y="642.5">2F IC1</text>
<line x1="297" y1="641" x2="309" y2="641" stroke="#e0d6a0"/><text class="lg" x="311" y="642.5">2F IC2</text>
<line x1="355" y1="641" x2="367" y2="641" stroke="#c8c8c8"/><text class="lg" x="369" y="642.5">2F IC3</text>
<line x1="412" y1="641" x2="424" y2="641" stroke="#c4ccd8"/><text class="lg" x="426" y="642.5">2F IC4</text>
<line x1="470" y1="641" x2="482" y2="641" stroke="#dcd4b0"/><text class="lg" x="484" y="642.5">2F IC5</text>
<line x1="238" y1="649" x2="250" y2="649" stroke="#4a5a7a" stroke-width="1.4"/><text class="lg" x="252" y="650.5">1F IC1</text>
<line x1="297" y1="649" x2="309" y2="649" stroke="#8b5e55" stroke-width="1.4"/><text class="lg" x="311" y="650.5">1F IC2</text>
<line x1="355" y1="649" x2="367" y2="649" stroke="#8c8c95" stroke-width="1.4"/><text class="lg" x="369" y="650.5">1F IC3</text>
<line x1="412" y1="649" x2="424" y2="649" stroke="#c8b440" stroke-width="1.4"/><text class="lg" x="426" y="650.5">1F IC4</text>
<line x1="470" y1="649" x2="482" y2="649" stroke="#6688aa" stroke-width="1.4"/><text class="lg" x="484" y="650.5">1F IC5</text>
</g>

<!-- ================= CHART 8 ================= -->
<g transform="translate(627,756) scale(13.5,-1.24)">
<path class="gr" d="M-0.2,0H23.2M-0.2,50H23.2M-0.2,100H23.2"/>
<polyline class="s" stroke="#7a7040" points="0,21 23,22"/>
<polyline class="s" stroke="#6c90b4" points="0,22 4,23 6,25 8,27 10,30 11,33 12,36 13,38 14,37 15,34 16,31 17,28 18,28 19,30 19.5,28 20,25 23,23"/>
<polyline class="s" stroke="#8c90b0" points="0,22 2,23 3,24 4,25 5,30 6,32 7,27 8,32 9,35 10,40 11,50 11.5,45 12,60 12.5,55 13,50 13.5,58 14,55 15,45 16,32 17,28 18,38 19,30 20,26 23,24"/>
<polyline class="s" stroke="#c8b440" style="stroke-width:1.5" points="0,22 1,23 2,24 2.5,28 3,25 3.5,26 4,27 4.5,30 5,38 5.5,45 6,40 6.5,32 7,28 7.5,30 8,40 8.5,52 9,45 9.5,45 10,55 10.5,68 11,75 11.3,70 11.6,60 12,82 12.3,75 12.6,82 13,65 13.3,75 13.6,70 14,75 14.5,72 15,55 15.5,50 16,38 16.5,35 17,30 17.5,35 18,45 18.3,48 18.6,42 19,32 19.5,30 20,28 20.5,27 21,28 21.5,24 22,25 22.5,26 23,24"/>
<polyline class="s" stroke="#9b6a50" points="0,22 2,23 2.5,26 3,24 4,25 5,32 5.5,38 6,34 6.5,28 7,26 8,35 8.5,42 9,38 10,46 10.5,55 11,60 11.5,52 12,68 12.5,60 13,55 13.5,62 14,58 14.5,55 15,48 15.5,42 16,34 17,28 17.5,32 18,42 18.5,38 19,30 20,26 21,26 22,25 23,24"/>
<polyline class="s" stroke="#4b4b60" points="0,22 2,23 3,24 4,25 5,28 6,30 7,26 8,30 9,30 10,36 11,42 11.5,35 12,45 12.5,40 13,38 13.5,45 14,48 14.5,45 15,40 16,32 17,27 18,34 18.5,32 19,28 20,26 21,27 22,25 23,24"/>
<polyline class="s" stroke="#444455" style="stroke-width:1.6" points="0,20 23,21"/>
</g>
<text class="ti" x="777" y="624">실험 4 측정온도(2층 Window 내측 및 외측)</text>
<text class="ax" x="603" y="628">온도(℃)</text>
<g>
<text class="yl" x="620" y="757.5">0</text><text class="yl" x="620" y="695.5">50</text><text class="yl" x="620" y="633.5">100</text>
<text class="xl" x="627" y="764">0</text><text class="xl" x="640.5" y="764">1</text><text class="xl" x="654" y="764">2</text><text class="xl" x="667.5" y="764">3</text><text class="xl" x="681" y="764">4</text><text class="xl" x="694.5" y="764">5</text><text class="xl" x="708" y="764">6</text><text class="xl" x="721.5" y="764">7</text><text class="xl" x="735" y="764">8</text><text class="xl" x="748.5" y="764">9</text><text class="xl" x="762" y="764">10</text><text class="xl" x="775.5" y="764">11</text><text class="xl" x="789" y="764">12</text><text class="xl" x="802.5" y="764">13</text><text class="xl" x="816" y="764">14</text><text class="xl" x="829.5" y="764">15</text><text class="xl" x="843" y="764">16</text><text class="xl" x="856.5" y="764">17</text><text class="xl" x="870" y="764">18</text><text class="xl" x="883.5" y="764">19</text><text class="xl" x="897" y="764">20</text><text class="xl" x="910.5" y="764">21</text><text class="xl" x="924" y="764">22</text><text class="xl" x="937.5" y="764">23</text>
</g>
<text class="xt" x="793" y="770">시간(min)</text>
<g stroke-width="1">
<line x1="657" y1="642" x2="669" y2="642" stroke="#b8b8c4"/><text class="lg" x="671" y="643.5">2F WI1</text>
<line x1="712" y1="642" x2="724" y2="642" stroke="#c8c0a0"/><text class="lg" x="726" y="643.5">2F WI2</text>
<line x1="768" y1="642" x2="780" y2="642" stroke="#a8a8b0"/><text class="lg" x="782" y="643.5">2F WI3</text>
<line x1="825" y1="642" x2="837" y2="642" stroke="#d8cc80"/><text class="lg" x="839" y="643.5">2F WI4</text>
<line x1="882" y1="642" x2="894" y2="642" stroke="#c0c8d4"/><text class="lg" x="896" y="643.5">2F WI5</text>
<line x1="657" y1="651" x2="669" y2="651" stroke="#4b4b60" stroke-width="1.4"/><text class="lg" x="671" y="652.5">2F OW1</text>
<line x1="712" y1="651" x2="724" y2="651" stroke="#c8b440" stroke-width="1.4"/><text class="lg" x="726" y="652.5">2F OW2</text>
<line x1="768" y1="651" x2="780" y2="651" stroke="#5a5a68" stroke-width="1.4"/><text class="lg" x="782" y="652.5">2F OW3</text>
<line x1="825" y1="651" x2="837" y2="651" stroke="#c8b440" stroke-width="1.4"/><text class="lg" x="839" y="652.5">2F OW4</text>
<line x1="882" y1="651" x2="894" y2="651" stroke="#444455" stroke-width="1.4"/><text class="lg" x="896" y="652.5">2F OW5</text>
</g>

<!-- ================= TABLE ================= -->
<rect class="tl" x="20" y="11" width="975" height="771"/>
<line class="tl" x1="131" y1="11" x2="131" y2="782"/>
<line class="tl" x1="563" y1="11" x2="563" y2="782"/>
<line class="tl" x1="20" y1="77" x2="995" y2="77"/>
<line class="tl" x1="20" y1="241" x2="995" y2="241"/>
<line class="tl" x1="20" y1="421" x2="995" y2="421"/>
<line class="tl" x1="20" y1="602" x2="995" y2="602"/>

<text class="hd" x="45" y="54">구분</text>
<text class="hd" x="252" y="54">내부</text>
<text class="hd" x="330" y="54">측정온도</text>
<text class="hd" x="680" y="54">외부</text>
<text class="hd" x="759" y="54">측정온도</text>

<text class="rl" x="45" y="156">실험</text>
<text class="rn" x="75" y="188" text-anchor="middle">1</text>
<text class="rl" x="45" y="324">실험</text>
<text class="rn" x="75" y="358" text-anchor="middle">2</text>
<text class="rl" x="45" y="507">실험</text>
<text class="rn" x="75" y="540" text-anchor="middle">3</text>
<text class="rl" x="45" y="686">실험</text>
<text class="rn" x="75" y="719" text-anchor="middle">4</text>
</svg>
</body></html>
